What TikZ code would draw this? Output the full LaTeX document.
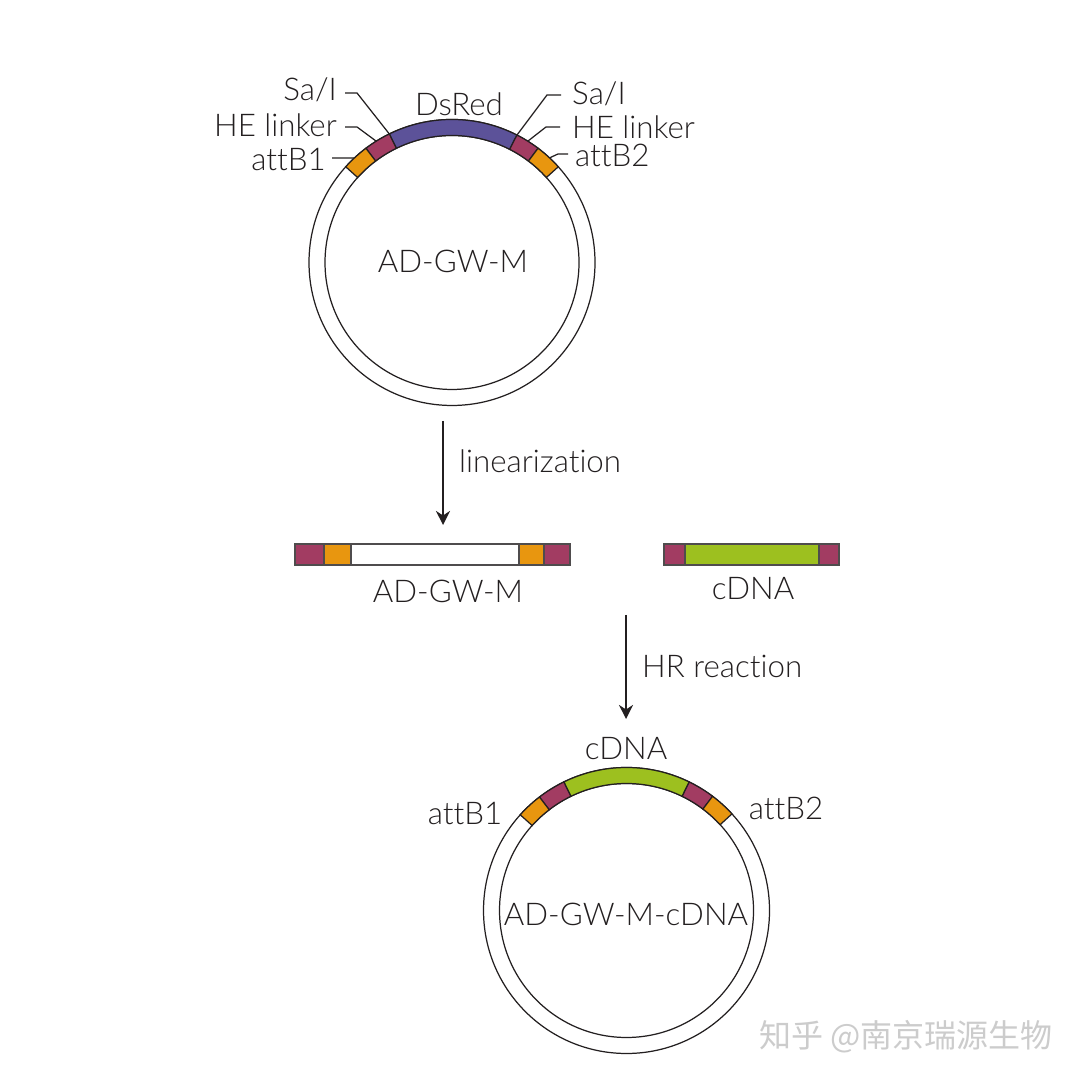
\documentclass[tikz,border=0pt]{standalone}
\usepackage{fontspec}
\setmainfont{Lato Light}[Ligatures=NoCommon]
\newfontfamily\cjkfont{Noto Sans CJK SC}
\usepackage{xcolor}
\usepackage{tikz}
\usetikzlibrary{calc,arrows.meta}
\definecolor{redsdye}{HTML}{5C5299}
\definecolor{linkerx}{HTML}{A23C62}
\definecolor{attx}{HTML}{E8960F}
\definecolor{cdnax}{HTML}{9DC01F}
\definecolor{inkx}{HTML}{231F20}
\tikzset{
  ar/.style={-{Stealth[length=4pt,width=4pt]},line width=0.45pt,inkx},
  lead/.style={line width=0.35pt,inkx},
  band/.style={draw=inkx,line width=0.35pt},
  barpc/.style={draw=inkx!80,line width=0.3pt},
  lab/.style={font=\fontsize{8.9}{11}\selectfont,text=inkx,inner sep=1pt}
}
% one piece of the ring, between two angles
\newcommand{\ringseg}[4]{\filldraw[band,fill=#4] ($(#1)+(#2:143)$) arc (#2:#3:143) -- ($(#1)+(#3:127)$) arc (#3:#2:127) -- cycle;}
\begin{document}
\begin{tikzpicture}[x=0.01cm,y=0.01cm]
\useasboundingbox (0,0) rectangle (1080,1080);
\fill[white] (0,0) rectangle (1080,1080);
\coordinate (ringA) at (452,817.5);
\coordinate (ringB) at (626.5,169.5);

% upper plasmid
\draw[band] (ringA) circle (143);
\draw[band] (ringA) circle (127);
\ringseg{ringA}{116}{63}{redsdye}
\ringseg{ringA}{127}{116}{linkerx}
\ringseg{ringA}{138}{127}{attx}
\ringseg{ringA}{63}{53}{linkerx}
\ringseg{ringA}{53}{42}{attx}
\node[lab] (nameA) at (453,819) {AD-GW-M};
\node[lab] (dsred) at (459,976) {DsRed};
\node[lab,anchor=east] (salL) at (341,990) {Sa/I};
\node[lab,anchor=east] (heL) at (341,955) {HE linker};
\node[lab,anchor=east] (attL) at (330,920) {attB1};
\node[lab,anchor=west] (salR) at (568,986) {Sa/I};
\node[lab,anchor=west] (heR) at (568,953) {HE linker};
\node[lab,anchor=west] (attR) at (571,925) {attB2};
\coordinate (salLend) at ($(ringA)+(116:143)$);
\coordinate (heLend) at ($(ringA)+(122:143)$);
\coordinate (attLend) at ($(ringA)+(133:143)$);
\coordinate (salRend) at ($(ringA)+(63:143)$);
\coordinate (heRend) at ($(ringA)+(58:143)$);
\coordinate (attRend) at ($(ringA)+(47:143)$);
\draw[lead] (salL.east)++(4,-3) -- ++(12,0) -- (salLend);
\draw[lead] (heL.east)++(4,-2) -- ++(12,0) -- (heLend);
\draw[lead] (attL.east)++(2,2) -- ++(11,0) -- (attLend);
\draw[lead] (salR.west)++(-7,-1) -- ++(-14,0) -- (salRend);
\draw[lead] (heR.west)++(-8,0) -- ++(-14,0) -- (heRend);
\draw[lead] (attR.west)++(-3,1) -- ++(-10,0) -- (attRend);

% linear pieces
\coordinate (arAtop) at (443,659);
\coordinate (arAend) at (443,555);
\draw[ar] (arAtop) -- (arAend);
\node[lab,anchor=west] (linlab) at (455,619) {linearization};
\foreach \xa/\xb/\col in {295/324/linkerx,324/351/attx,351/519/white,519/544/attx,544/570/linkerx,664/685/linkerx,685/819/cdnax,819/839/linkerx}{
  \filldraw[barpc,fill=\col] (\xa,515) rectangle (\xb,536);
}
\node[lab] (nameLin) at (448,489) {AD-GW-M};
\node[lab] (cdnaLin) at (753,491) {cDNA};
\coordinate (arBtop) at (626,465);
\coordinate (arBend) at (626,361);
\draw[ar] (arBtop) -- (arBend);
\node[lab,anchor=west] (hrlab) at (638,414) {HR reaction};

% lower plasmid
\draw[band] (ringB) circle (143);
\draw[band] (ringB) circle (127);
\ringseg{ringB}{116}{64}{cdnax}
\ringseg{ringB}{127.5}{116}{linkerx}
\ringseg{ringB}{138}{127.5}{attx}
\ringseg{ringB}{64}{53}{linkerx}
\ringseg{ringB}{53}{42.5}{attx}
\node[lab] (cdnaB) at (626,331) {cDNA};
\node[lab] (attBl) at (465,266) {attB1};
\node[lab] (attBr) at (786,272) {attB2};
\node[lab] (nameB) at (626,166) {AD-GW-M-cDNA};

\node[font=\cjkfont\fontsize{9.1}{10}\selectfont,text=black!20,inner sep=0pt] (mark) at (906,43) {知乎 @南京瑞源生物};
\end{tikzpicture}
\end{document}
